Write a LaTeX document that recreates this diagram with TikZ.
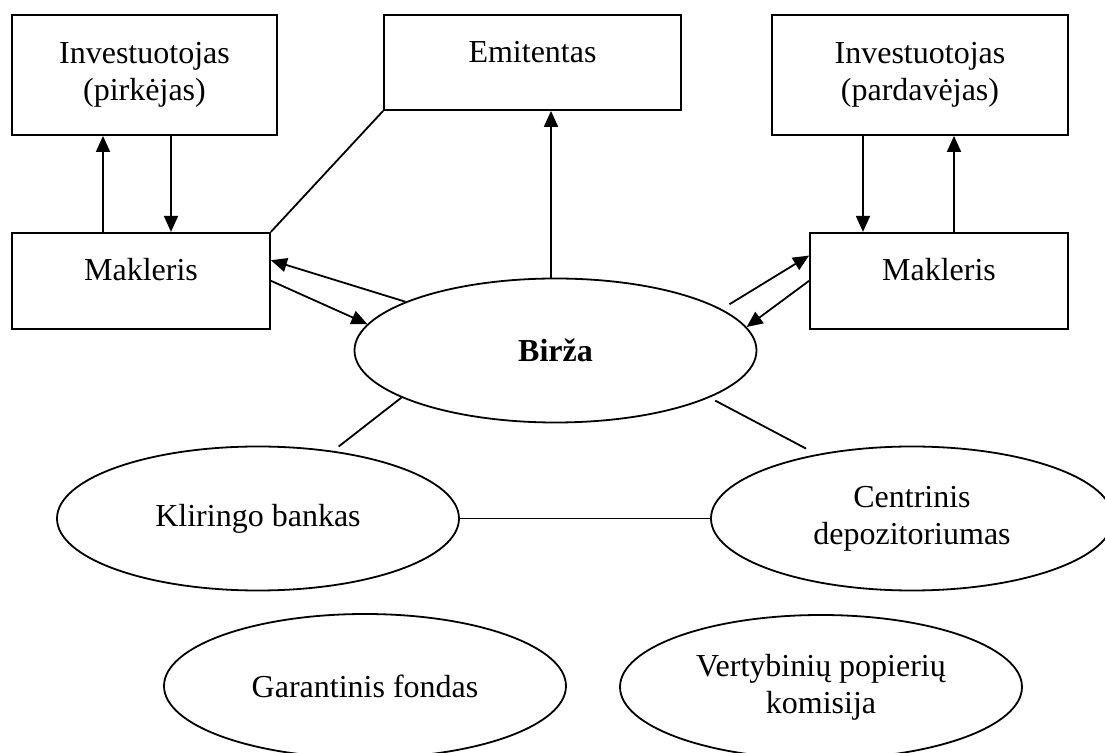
\documentclass[tikz,border=0pt]{standalone}
\usepackage{fontspec}
\setmainfont{Liberation Serif}
\usetikzlibrary{positioning, arrows.meta, shapes.geometric}

\begin{document}
\begin{tikzpicture}[x=0.5pt, y=-0.5pt, font=\fontsize{16}{18.5}\selectfont]
    \tikzset{
        block/.style={rectangle, draw, line width=0.9pt, align=center, inner sep=0pt},
        oneline/.style={text height=11pt, text depth=11pt},
        oval/.style={ellipse, draw, line width=0.9pt, align=center, inner sep=0pt,
                     minimum width=201pt, minimum height=72pt},
        arrow/.style={line width=0.9pt, -{Triangle[length=8pt, width=7pt]}},
        link/.style={line width=0.9pt}
    }
    \useasboundingbox (0,0) rectangle (1105,753);
    % investors, issuer, brokers
    \node[block, minimum width=132.5pt, minimum height=60pt] (invL) at (144.5,75) {Investuotojas\\(pirkėjas)};
    \node[block, oneline, minimum width=148.5pt, minimum height=47.5pt] (emit) at (532.5,62.5) {Emitentas};
    \node[block, minimum width=148pt, minimum height=60pt] (invR) at (920,75) {Investuotojas\\(pardavėjas)};
    \node[block, oneline, minimum width=129pt, minimum height=48pt,
          below=48pt of invL.south west, anchor=north west] (makL) {Makleris};
    \node[block, oneline, minimum width=129pt, minimum height=48pt,
          below=48pt of invR.south east, anchor=north east] (makR) {Makleris};
    % market and institutions
    \node[oval, font=\fontsize{16}{18.5}\selectfont\bfseries] (birza) at (555.5,350.5) {Birža};
    \node[oval] (klir) at (258,518.5) {Kliringo bankas};
    \node[oval] (cdep) at (912,518.5) {Centrinis\\depozitoriumas};
    \node[oval] (garant) at (365,686) {Garantinis fondas};
    \node[oval] (vpk) at (821,687) {Vertybinių popierių\\komisija};
    % investor <-> broker
    \draw[arrow] ([xshift=-19pt]makL.north) -- ([xshift=-19pt]makL.north |- invL.south);
    \draw[arrow] ([xshift=15pt]makL.north |- invL.south) -- ([xshift=15pt]makL.north);
    \draw[arrow] ([xshift=-38pt]makR.north |- invR.south) -- ([xshift=-38pt]makR.north);
    \draw[arrow] ([xshift=7.5pt]makR.north) -- ([xshift=7.5pt]makR.north |- invR.south);
    % broker <-> exchange
    \draw[link] (makL.north east) -- (emit.south west);
    \draw[arrow] ([xshift=-2.25pt]birza.north) -- ([xshift=-2.25pt]birza.north |- emit.south);
    \draw[arrow] (birza.162.5) -- (makL.9.7);
    \draw[arrow] (makL.east) -- (birza.172.3);
    \draw[arrow, shorten <=4.6pt] (birza.14.8) -- (makR.169.9);
    \draw[arrow] (makR.west) -- (birza.7.7);
    % settlement
    \draw[link, shorten >=3.5pt] (birza.197.9) -- (klir.42.1);
    \draw[link, shorten <=3.2pt, shorten >=6pt] (birza.343.9) -- (cdep.146.5);
    \draw[link] (klir.east) -- (cdep.west);
\end{tikzpicture}
\end{document}
